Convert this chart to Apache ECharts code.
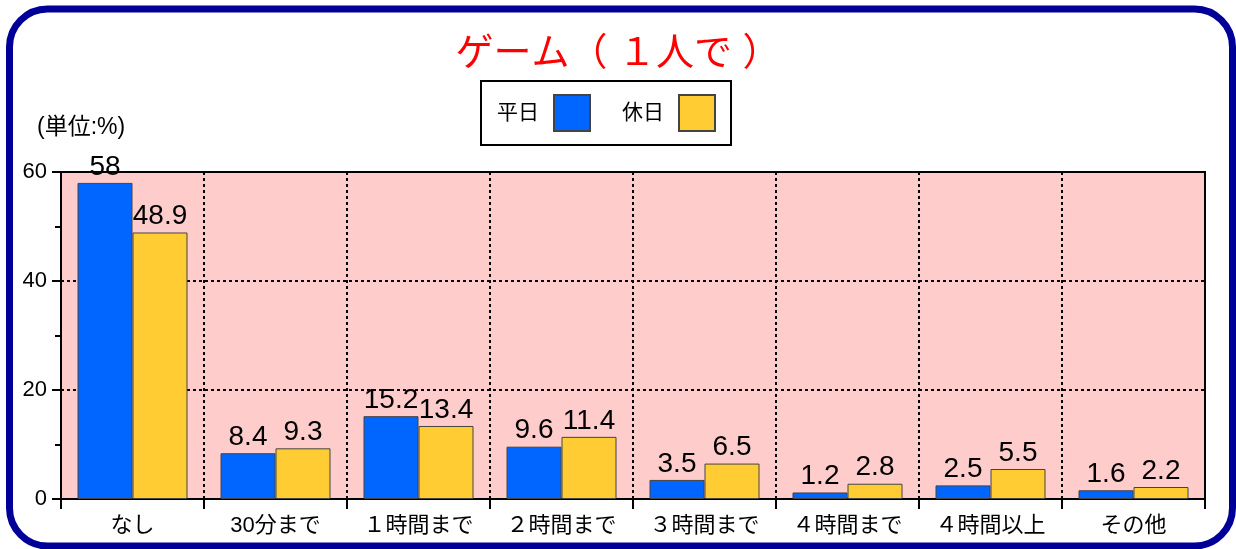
<!DOCTYPE html>
<html><head><meta charset="utf-8">
<script src="https://cdn.jsdelivr.net/npm/echarts@6/dist/echarts.min.js"></script>
<style>html,body{margin:0;padding:0;background:#fff}#c{width:1236px;height:549px}</style>
</head><body><div id="c"></div>
<script>
const categories = ['なし','30分まで','１時間まで','２時間まで','３時間まで','４時間まで','４時間以上','その他'];
const weekday = [58, 8.4, 15.2, 9.6, 3.5, 1.2, 2.5, 1.6];
const holiday = [48.9, 9.3, 13.4, 11.4, 6.5, 2.8, 5.5, 2.2];
const seriesNames = ['平日','休日'];
const yTicks = {min:0, max:60, interval:20};
const FONT = '"Liberation Sans", "Noto Sans CJK JP", sans-serif';

const chart = echarts.init(document.getElementById('c'));
const label = {show:true, position:'top', distance:2, fontSize:28, color:'#000', fontFamily:FONT};
chart.setOption({
  animation:false,
  textStyle:{fontFamily:FONT},
  title:{text:'ゲーム（ １人で ）', left:'center', top:31,
    textStyle:{fontSize:38, color:'#ff0000', fontWeight:'normal', fontFamily:FONT}},
  legend:{left:481, top:81, orient:'horizontal', align:'right',
    data:seriesNames, icon:'rect', itemWidth:36, itemHeight:36, itemGap:31,
    padding:[13,15,13,16], borderColor:'#000', borderWidth:2,
    textStyle:{fontSize:21, color:'#000', fontFamily:FONT, padding:[0,10,0,0]}},
  graphic:[
    {type:'rect', shape:{x:9.5, y:9, width:1223, height:537, r:38},
     style:{fill:'none', stroke:'#000099', lineWidth:7}},
    {type:'text', left:37, top:116, style:{text:'(単位:%)', fill:'#000', font:'23px "Liberation Sans", "Noto Sans CJK JP", sans-serif'}}
  ],
  grid:{left:61, right:31, top:172, bottom:50, show:true, backgroundColor:'#FFCCCC', borderColor:'#000', borderWidth:2},
  xAxis:{type:'category', data:categories,
    axisLine:{lineStyle:{color:'#000', width:2}},
    axisTick:{show:true, length:10, lineStyle:{color:'#000', width:2}},
    axisLabel:{fontSize:22, color:'#000', margin:16, fontFamily:FONT, interval:0},
    splitLine:{show:true, lineStyle:{color:'#000', width:2, type:[3,3]}}},
  yAxis:{type:'value', min:yTicks.min, max:yTicks.max, interval:yTicks.interval,
    axisLine:{show:true, lineStyle:{color:'#000', width:2}},
    axisTick:{show:true, length:9, lineStyle:{color:'#000', width:2}},
    minorTick:{show:true, splitNumber:2, length:6, lineStyle:{color:'#000', width:2}},
    axisLabel:{fontSize:22, color:'#000', margin:14, fontFamily:FONT},
    splitLine:{show:true, lineStyle:{color:'#000', width:2, type:[3,3]}}},
  series:[
    {name:seriesNames[0], type:'bar', data:weekday, barWidth:55, barGap:'0%',
     itemStyle:{color:'#0066FF', borderColor:'#444', borderWidth:1}, label:label},
    {name:seriesNames[1], type:'bar', data:holiday, barWidth:55, barGap:'0%',
     itemStyle:{color:'#FFCC33', borderColor:'#444', borderWidth:1}, label:label}
  ]
});
</script></body></html>
